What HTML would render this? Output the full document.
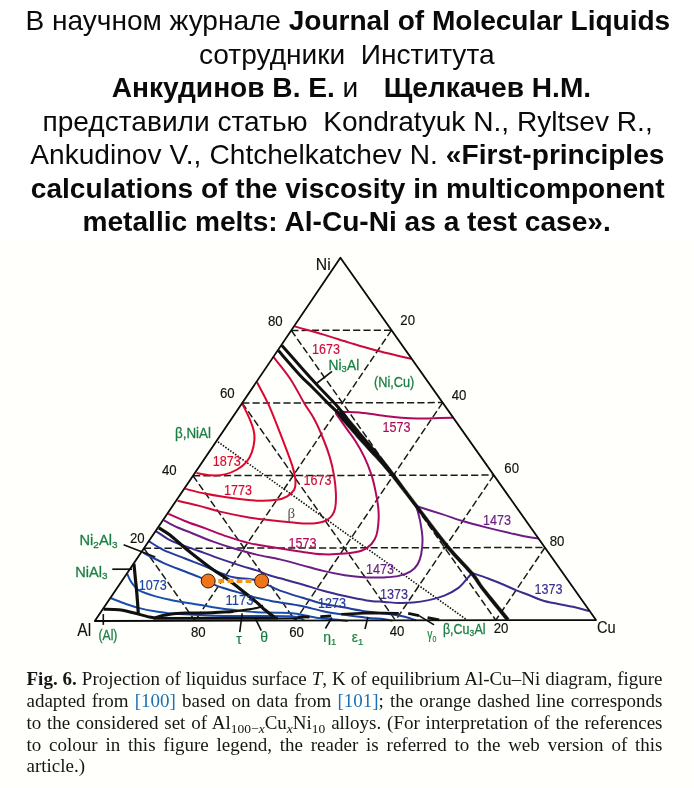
<!DOCTYPE html>
<html><head><meta charset="utf-8">
<style>
html,body{margin:0;padding:0;}
body{width:694px;height:788px;position:relative;overflow:hidden;background:#ffffff;font-family:"Liberation Sans",sans-serif;color:#000;}
.fig{position:absolute;left:0;top:238px;width:694px;height:550px;background:#fffffb;}
.h{position:absolute;white-space:pre;font-size:28.1px;line-height:34px;height:34px;color:#0a0a0a;}
.cap{position:absolute;left:26.5px;width:636px;height:22px;font-family:"Liberation Serif",serif;font-size:19px;line-height:22px;color:#161616;text-align:justify;text-align-last:justify;white-space:nowrap;transform:scaleY(0.95);transform-origin:0 17.41px;}
.cap .r{color:#1a6fb5;}
.cap sub{font-size:13.5px;line-height:0;vertical-align:-3.8px;}
svg{position:absolute;left:0;top:0;}
svg text{font-family:"Liberation Sans",sans-serif;}
</style></head><body>
<div id="wrap" style="position:absolute;left:0;top:0;width:694px;height:788px;will-change:transform;">
<div class="fig"></div>
<div class="h" style="left:25.6px;top:4.3px;letter-spacing:-0.035px">В научном журнале <b>Journal of Molecular Liquids</b></div>
<div class="h" style="left:199px;top:37.8px">сотрудники  Института</div>
<div class="h" style="left:111.8px;top:71.2px"><b>Анкудинов В. Е.</b> и  <span style="letter-spacing:2px"> </span><b>Щелкачев Н.М.</b></div>
<div class="h" style="left:42.5px;top:104.6px">представили статью  Kondratyuk N., Ryltsev R.,</div>
<div class="h" style="left:30.3px;top:138px;word-spacing:0.3px">Ankudinov V., Chtchelkatchev N. <b>«First-principles</b></div>
<div class="h" style="left:30.8px;top:171.5px"><b>calculations of the viscosity in multicomponent</b></div>
<div class="h" style="left:82.5px;top:204.8px"><b>metallic melts: Al-Cu-Ni as a test case».</b></div>
<svg width="694" height="788" viewBox="0 0 694 788" fill="none" stroke-linecap="butt" stroke-linejoin="round">
<path d="M143.9 548.3L544.9 547.5" stroke="#1a1a1a" stroke-width="1.5" stroke-dasharray="7.2 3.1"/>
<path d="M391.5 330.2L195 620.8" stroke="#1a1a1a" stroke-width="1.5" stroke-dasharray="7.2 3.1"/>
<path d="M291.3 330.4L495.8 620.2" stroke="#1a1a1a" stroke-width="1.5" stroke-dasharray="7.2 3.1"/>
<path d="M193 475.7L493.8 475.1" stroke="#1a1a1a" stroke-width="1.5" stroke-dasharray="7.2 3.1"/>
<path d="M442.6 402.6L295.3 620.6" stroke="#1a1a1a" stroke-width="1.5" stroke-dasharray="7.2 3.1"/>
<path d="M242.2 403L395.5 620.4" stroke="#1a1a1a" stroke-width="1.5" stroke-dasharray="7.2 3.1"/>
<path d="M242.2 403L442.6 402.6" stroke="#1a1a1a" stroke-width="1.5" stroke-dasharray="7.2 3.1"/>
<path d="M493.8 475.1L395.5 620.4" stroke="#1a1a1a" stroke-width="1.5" stroke-dasharray="7.2 3.1"/>
<path d="M193 475.7L295.3 620.6" stroke="#1a1a1a" stroke-width="1.5" stroke-dasharray="7.2 3.1"/>
<path d="M291.3 330.4L391.5 330.2" stroke="#1a1a1a" stroke-width="1.5" stroke-dasharray="7.2 3.1"/>
<path d="M544.9 547.5L495.8 620.2" stroke="#1a1a1a" stroke-width="1.5" stroke-dasharray="7.2 3.1"/>
<path d="M143.9 548.3L195 620.8" stroke="#1a1a1a" stroke-width="1.5" stroke-dasharray="7.2 3.1"/>
<path d="M218 441.9L466 619.3" stroke="#111" stroke-width="1.6" stroke-dasharray="1.5 1.5"/>
<path d="M294.6 326.4C296.6 327 302.8 328.8 306.4 329.8C310 330.8 312.6 331.4 316.5 332.5C320.4 333.6 324.4 334.9 330 336.6C335.6 338.3 342.4 340.6 350 342.9C357.6 345.2 365.2 347.6 375.4 350.3C385.6 353 405.3 357.5 411.3 358.9" stroke="#cc0a3c" stroke-width="2.0" />
<path d="M336.7 411.8C338.4 411.8 343.2 411.9 347 412C350.8 412.1 354.3 412.1 359.2 412.5C364.1 412.9 370.7 414 376.5 414.7C382.3 415.4 388.2 416.3 393.8 416.9C399.4 417.5 404.8 417.9 410 418.2C415.2 418.5 420 418.7 425 418.6C430 418.6 435.4 418 440 417.9C444.6 417.8 450.7 417.8 452.8 417.8" stroke="#b0085c" stroke-width="2.0" />
<path d="M168.3 513.8C171.1 515 178.5 518.5 184.8 521C191.1 523.5 198.9 526 206 528.6C213.1 531.2 220.4 534.2 227.6 536.6C234.8 539 242.2 541.4 249.3 543.1C256.4 544.8 261.3 545.2 270 546.7C278.7 548.2 292.7 550.5 301.6 551.8C310.5 553.1 316 554 323.2 554.3C330.4 554.6 338.3 554.2 344.8 553.6C351.3 553 357.6 552.1 362 550.5C366.4 548.9 369.1 546.6 371.5 544C373.9 541.4 375.3 539 376.5 535C377.7 531 378.3 524.6 378.6 520C378.9 515.4 378.7 511.9 378.2 507.2C377.7 502.5 376.8 497.1 375.6 491.6C374.5 486.1 373.2 480.1 371.3 474.4C369.4 468.6 367 462.6 364.4 457.1C361.8 451.6 358.6 446.1 355.7 441.5C352.8 436.9 350.5 434.1 347.1 429.4C343.7 424.6 337.4 415.7 335.5 413" stroke="#b0085c" stroke-width="2.0" />
<path d="M273.2 356.7C276.1 360.4 285.3 371.4 290.5 379.2C295.7 387 300.4 396.8 304.4 403.4C308.3 410 311.1 413.2 314.2 419C317.3 424.8 320.3 431.6 322.9 438C325.5 444.4 327.9 450.8 329.8 457.1C331.7 463.5 333.1 470.1 334.1 476.1C335.1 482.2 335.7 488.2 335.9 493.4C336.1 498.6 335.9 503.6 335.3 507.2C334.7 510.8 333.8 512.9 332.4 515C331 517.1 329.3 518.6 327.2 519.8C325.1 521 323.4 521.8 320 522.4C316.6 523 313.6 523.8 306.5 523.6C299.4 523.4 287.2 522 277.6 521C268 520 258.4 519 248.8 517.4C239.2 515.8 228.2 513.5 220 511.6C211.8 509.7 206.4 507.7 199.3 505.9C192.2 504.1 181.2 501.6 177.6 500.8" stroke="#cc0a3c" stroke-width="2.0" />
<path d="M256.8 381.8C258.7 385.4 264.7 396.3 268 403.4C271.3 410.5 273.9 417.3 276.8 424.6C279.7 431.9 282.9 440.2 285.5 447.1C288.1 454 290.8 460.6 292.4 466.1C294 471.6 295.1 476 295.4 479.9C295.7 483.8 295.7 486.8 294.3 489.5C292.9 492.2 290.1 494.6 287.2 496.3C284.3 498 281.7 499.1 276.8 499.8C271.9 500.5 265.3 501 257.8 500.7C250.3 500.4 240.6 499.2 231.9 498.1C223.2 497 213.7 495.3 205.9 493.8C198.1 492.3 188.6 489.7 185.2 488.9" stroke="#dc0630" stroke-width="2.0" />
<path d="M242.3 403.8C243.3 405.8 246.4 411.6 248.3 415.9C250.2 420.2 252.5 425.8 253.5 429.8C254.5 433.8 254.7 436.4 254.4 440.1C254.1 443.9 253.1 448.7 251.8 452.3C250.5 455.9 249.1 458.9 246.6 461.8C244.1 464.7 240.7 467.4 237.1 469.5C233.5 471.6 229.3 473.4 225 474.4C220.7 475.4 215.9 475.5 211.1 475.3C206.3 475.1 198.8 473.4 196.4 473" stroke="#e2062c" stroke-width="2.0" />
<path d="M163.9 520.3C166.2 521.5 173 525.4 177.6 527.5C182.2 529.6 185.7 530.6 191.6 533C197.5 535.4 206 539 213.2 541.6C220.4 544.2 227.6 546.6 234.8 548.8C242 551 249 552.8 256.5 554.6C264 556.4 272.5 557.6 280 559.4C287.5 561.1 294.4 563.2 301.6 565.1C308.8 567 316 569.2 323.2 570.9C330.4 572.6 337.6 574.1 344.8 575.2C352 576.3 359.9 577 366.5 577.4C373.1 577.8 379 577.6 384.4 577.4C389.8 577.1 394.5 576.9 398.8 575.9C403.1 574.9 407.2 573.5 410.3 571.6C413.4 569.7 415.8 567.3 417.6 564.4C419.4 561.5 420.4 558.5 421.2 554.3C422 550.1 422.6 544.6 422.5 539.2C422.4 533.8 421.3 527.4 420.3 521.9C419.3 516.4 417 508.8 416.3 506.2" stroke="#6c1d86" stroke-width="2.0" />
<path d="M416 506C420.3 507.4 434.1 511.6 441.9 514.1C449.7 516.6 455.4 518.8 462.6 521C469.8 523.2 477.2 525.1 485.1 527.1C493 529.1 503.5 531.6 510 533.1C516.5 534.6 519.2 535.3 523.9 536.2C528.6 537.1 535.6 538.1 538 538.5" stroke="#6c1d86" stroke-width="2.0" />
<path d="M156 531.1C158.3 532.6 165.3 537.7 170 540.2C174.7 542.7 179.6 544.1 184.4 545.9C189.2 547.7 192.8 548.8 198.8 551C204.8 553.2 213.2 556.4 220.4 558.9C227.6 561.4 236 564.2 242 566.1C248 568 251.8 568.8 256.5 570.4C261.2 572 266.1 574.2 270 575.5C273.9 576.8 274.7 576.8 280 578.3C285.3 579.8 294.4 582.1 301.6 584.2C308.8 586.3 316 588.8 323.2 590.8C330.4 592.8 337.6 594.5 344.8 596.1C352 597.7 359.9 599.4 366.5 600.4C373.1 601.4 379 601.5 384.4 601.9C389.8 602.3 394 602.9 398.8 603C403.6 603.1 408.4 603 413.2 602.6C418 602.2 422.4 601.6 427.6 600.4C432.8 599.2 439.2 597.7 444.4 595.6C449.6 593.5 454.9 590.5 458.8 587.6C462.7 584.7 465.3 580.7 467.5 578.2C469.7 575.8 471.1 573.8 471.8 572.9" stroke="#3f2a8e" stroke-width="2.0" />
<path d="M471.8 572.9C474.4 573.8 482.6 576.4 487.6 578.2C492.6 580.1 497.2 582 502 584C506.8 586 511.8 588.5 516.5 590.4C521.2 592.3 525.4 593.7 530 595.5C534.6 597.3 537 599.1 544.1 601C551.2 602.9 565.4 605.1 572.9 606.8C580.4 608.5 586.3 610.3 589 611" stroke="#3f2a8e" stroke-width="2.0" />
<path d="M148.8 541.2C151.2 542.6 157.3 547 163.2 549.8C169.1 552.6 178.5 555.9 184.4 558.2C190.3 560.6 194 562 198.8 563.9C203.6 565.8 209.1 568 213.2 569.7C217.3 571.4 219.7 572.7 223.3 574C226.9 575.3 229.5 576.6 234.8 577.6C240.1 578.6 249.4 578.7 255 580C260.6 581.3 264.3 583.5 268.5 585.3C272.7 587.1 274.5 588.6 280 590.6C285.5 592.6 294.4 595.3 301.6 597.5C308.8 599.7 316 602.1 323.2 603.8C330.4 605.5 337.6 606.3 344.8 607.6C352 608.9 359.9 610.5 366.5 611.5C373.1 612.5 379 612.7 384.4 613.4C389.8 614.1 394.5 614.8 398.8 615.6C403.1 616.4 407.4 617.6 410.3 618.4C413.2 619.2 415.1 620.1 416.1 620.4" stroke="#233c9e" stroke-width="2.0" />
<path d="M143.1 552.7C146.4 554.4 156.3 559.7 163.2 562.8C170.1 565.9 178.5 568.9 184.4 571.2C190.3 573.6 194.9 575.3 198.8 576.9C202.7 578.5 205.3 579.7 208 581C210.7 582.3 211.4 583.4 214.7 584.8C218 586.2 223 587.8 227.6 589.2C232.2 590.7 237.2 592.1 242 593.5C246.8 594.9 251.8 596.6 256.5 597.8C261.2 599 266.1 599.9 270 600.7C273.9 601.5 274.7 601.6 280 602.5C285.3 603.4 294.4 604.5 301.6 606C308.8 607.5 316 609.7 323.2 611.2C330.4 612.7 337.6 613.7 344.8 614.8C352 615.9 359.9 617 366.5 617.7C373.1 618.4 380.1 618.7 384.4 619.2C388.7 619.7 391 620.5 392.3 620.7" stroke="#1c42a2" stroke-width="2.0" />
<path d="M127.2 573.8C127.7 574.8 129 578.2 130 580C131 581.8 131.7 582.9 133.2 584.6C134.7 586.3 135.4 588.4 139 590.3C142.6 592.2 149.5 594.5 154.8 596.1C160.1 597.7 164.6 598.6 170.7 599.9C176.8 601.1 184.5 602.4 191.6 603.6C198.7 604.8 206 606.1 213.2 607.2C220.4 608.3 227.6 609.3 234.8 610.1C242 610.9 249.6 611.8 256.5 612.2C263.4 612.6 270.2 612.5 276.5 612.7C282.8 612.9 287.8 612.6 294.4 613.4C301 614.2 309.8 616.7 316 617.7C322.2 618.7 326.6 618.7 331.9 619.2C337.2 619.8 345.1 620.7 347.7 621" stroke="#1a4eae" stroke-width="2.0" />
<path d="M110.9 598.3C113.4 599.2 121.1 602.3 126 604C130.9 605.7 135.6 607.2 140.4 608.4C145.2 609.6 149.8 610.4 154.8 611.2C159.9 612 164.8 612.9 170.7 613.4C176.6 613.9 180.1 614.1 190 614.5C199.9 614.9 213.3 615.7 230 616C246.7 616.3 277.6 615.6 290 616.3C302.4 617 302.1 619.7 304.5 620.4" stroke="#1a4eae" stroke-width="2.0" />
<path d="M281.9 345.4C285.5 349.5 297.3 363 303.5 370C309.7 377 314.1 381.7 319.3 387.3C324.5 392.9 331.1 399.6 334.8 403.6C338.5 407.6 339.6 409 341.6 411.5C343.6 414 345.9 417.3 346.8 418.4" stroke="#101010" stroke-width="3.0" />
<path d="M278.4 350.6C282 354.7 294.4 369.1 300 375.2C305.6 381.3 307.6 382.6 312.3 387.3C317 392 324 399.2 328.4 403.6C332.8 408 336.1 410.9 338.8 413.7C341.4 416.5 343.3 419.4 344.2 420.6" stroke="#101010" stroke-width="3.0" />
<path d="M342.8 410.6C343.7 411.7 345.6 414.5 348 417.5C350.4 420.4 354.8 425.4 357.2 428.3C359.5 431.2 359.8 431.7 362.3 434.6C364.8 437.6 369.5 442.9 372.1 445.9C374.7 449 375.7 450.1 378 452.9C380.2 455.7 383.2 459.4 385.7 462.6C388.3 465.8 390 468 393.1 472.2C396.2 476.3 400.4 482 404.4 487.4C408.5 492.8 409.9 494.8 417.2 504.4C424.6 514 439.2 533.8 448.4 545C457.7 556.3 466.7 564.7 472.8 571.9C478.9 579.1 478.7 580.7 484.7 588.5C490.8 596.2 505.1 613.5 509.2 618.5L506.4 620.7C502.4 615.7 488.1 598.3 482.1 590.5C476 582.8 476.2 581.3 470.2 574.1C464.2 566.9 455.1 558.5 445.8 547.2C436.5 535.9 421.9 516 414.6 506.4C407.2 496.8 405.7 494.9 401.6 489.6C397.5 484.3 393.1 478.7 389.9 474.6C386.7 470.6 384.9 468.5 382.3 465.4C379.6 462.4 376.4 458.9 374 456.3C371.6 453.7 370.6 452.6 367.9 449.7C365.2 446.7 360.3 441.5 357.7 438.6C355.2 435.7 354.9 435.1 352.4 432.3C350 429.5 345.5 424.5 343 421.5C340.6 418.6 338.5 415.8 337.6 414.6Z" fill="#101010" stroke="#101010" stroke-width="0.4"/>
<path d="M158.9 527.8C160.8 529 165.8 531.8 170 535.1C174.2 538.4 179.6 543.4 184.4 547.4C189.2 551.4 194 555.2 198.8 558.9C203.6 562.6 208.4 566.3 213.2 569.7C218 573.1 222.8 575.6 227.6 579.1C232.4 582.6 237.2 586.8 242 590.6C246.8 594.4 252.7 598.9 256.5 602.1C260.4 605.4 262 607.5 265.1 610.1C268.2 612.7 273.4 616.3 275 617.5" stroke="#101010" stroke-width="3.2" />
<path d="M227.6 612.2C231.2 611.7 244 610.1 249.3 609.3C254.6 608.5 257 607.9 259.3 607.2C261.6 606.6 262.4 605.7 263 605.4" stroke="#101010" stroke-width="2.2" />
<path d="M112.3 569.2L132 569.2" stroke="#101010" stroke-width="1.7" />
<path d="M133.9 563.7C134.2 566.2 134.9 573.9 135.4 578.8C135.9 583.7 136.3 587.4 136.8 593.2C137.3 599 138.1 610 138.3 613.4" stroke="#101010" stroke-width="3.2" />
<path d="M103.7 609.3C106.2 609.4 113.9 609.2 118.8 609.8C123.7 610.4 128.4 611.6 133.2 612.7C138 613.8 144 615.8 147.6 616.6C151.2 617.4 152.4 617.9 154.8 617.7C157.2 617.5 158.4 616.3 162 615.6C165.6 614.9 171.8 613.8 176.5 613.4C181.2 613 184.2 613.1 190 613C195.8 612.9 204.4 612.9 211.6 612.7C218.8 612.5 229.6 611.8 233.2 611.6" stroke="#101010" stroke-width="3" />
<path d="M153.4 618.4L278 618.2" stroke="#101010" stroke-width="2.9" />
<path d="M278 618.6L300 618.3" stroke="#101010" stroke-width="2" />
<path d="M298 617L309.5 617" stroke="#101010" stroke-width="2.8" />
<path d="M320.3 616.6L331.2 616" stroke="#101010" stroke-width="2.8" />
<path d="M341.2 614.3L370 612.9L398.8 613.4" stroke="#101010" stroke-width="2.6" />
<path d="M408.2 613.4L419 615.6" stroke="#101010" stroke-width="2.8" />
<path d="M427.6 617.7L439.2 619.9" stroke="#101010" stroke-width="2.8" />
<path d="M123.6 544.8L155.3 557" stroke="#101010" stroke-width="1.6" />
<path d="M332 371.4L316.5 383.5" stroke="#101010" stroke-width="1.6" />
<path d="M242.2 613.4L239.7 632.1" stroke="#101010" stroke-width="1.6" />
<path d="M255.6 619.2L261.3 630.7" stroke="#101010" stroke-width="1.6" />
<path d="M331.9 617.7L325.4 628.5" stroke="#101010" stroke-width="1.6" />
<path d="M367.9 617L365 629" stroke="#101010" stroke-width="1.6" />
<path d="M419 615.6L434.1 624.9" stroke="#101010" stroke-width="1.6" />
<path d="M103.3 614.1L103.3 624.9" stroke="#101010" stroke-width="1.6" />
<path d="M94.8 621L340.4 257.7L596 620Z" stroke="#0a0a0a" stroke-width="1.8" />
<path d="M218.3 581L224.1 581" stroke="#f4951c" stroke-width="4" />
<path d="M227.6 581L233.4 581" stroke="#f4951c" stroke-width="4" />
<path d="M236.6 581L242.4 581" stroke="#f4951c" stroke-width="4" />
<path d="M245.6 581L251.4 581" stroke="#f4951c" stroke-width="4" />
<circle cx="208.2" cy="581" r="7" fill="#f0741a" stroke="#3a1a00" stroke-width="1"/>
<circle cx="261.6" cy="581" r="7" fill="#f0741a" stroke="#3a1a00" stroke-width="1"/>
<text x="323.2" y="269.7" font-size="16.6" fill="#111" stroke="#111" stroke-width="0.15" text-anchor="middle" textLength="14.9" lengthAdjust="spacingAndGlyphs" >Ni</text>
<text x="84.3" y="635.9" font-size="18" fill="#111" stroke="#111" stroke-width="0.1" text-anchor="middle" textLength="13.9" lengthAdjust="spacingAndGlyphs" >Al</text>
<text x="606.3" y="632.8" font-size="17" fill="#111" stroke="#111" stroke-width="0.15" text-anchor="middle" textLength="18.7" lengthAdjust="spacingAndGlyphs" >Cu</text>
<text x="275.3" y="326" font-size="13.8" fill="#111" stroke="#111" stroke-width="0.15" text-anchor="middle" textLength="14.7" lengthAdjust="spacingAndGlyphs" >80</text>
<text x="227.3" y="397.5" font-size="13.8" fill="#111" stroke="#111" stroke-width="0.15" text-anchor="middle" textLength="14.7" lengthAdjust="spacingAndGlyphs" >60</text>
<text x="169.3" y="474.8" font-size="13.8" fill="#111" stroke="#111" stroke-width="0.15" text-anchor="middle" textLength="14.7" lengthAdjust="spacingAndGlyphs" >40</text>
<text x="137.3" y="543.2" font-size="13.8" fill="#111" stroke="#111" stroke-width="0.15" text-anchor="middle" textLength="14.7" lengthAdjust="spacingAndGlyphs" >20</text>
<text x="407.7" y="325.1" font-size="13.8" fill="#111" stroke="#111" stroke-width="0.15" text-anchor="middle" textLength="14.7" lengthAdjust="spacingAndGlyphs" >20</text>
<text x="459.1" y="399.9" font-size="13.8" fill="#111" stroke="#111" stroke-width="0.15" text-anchor="middle" textLength="14.7" lengthAdjust="spacingAndGlyphs" >40</text>
<text x="511.7" y="473.3" font-size="13.8" fill="#111" stroke="#111" stroke-width="0.15" text-anchor="middle" textLength="14.7" lengthAdjust="spacingAndGlyphs" >60</text>
<text x="557" y="546" font-size="13.8" fill="#111" stroke="#111" stroke-width="0.15" text-anchor="middle" textLength="14.7" lengthAdjust="spacingAndGlyphs" >80</text>
<text x="198.3" y="637" font-size="13.8" fill="#111" stroke="#111" stroke-width="0.15" text-anchor="middle" textLength="14.7" lengthAdjust="spacingAndGlyphs" >80</text>
<text x="296.6" y="637.4" font-size="13.8" fill="#111" stroke="#111" stroke-width="0.15" text-anchor="middle" textLength="14.7" lengthAdjust="spacingAndGlyphs" >60</text>
<text x="397" y="635.6" font-size="13.8" fill="#111" stroke="#111" stroke-width="0.15" text-anchor="middle" textLength="14.7" lengthAdjust="spacingAndGlyphs" >40</text>
<text x="501" y="633.1" font-size="13.8" fill="#111" stroke="#111" stroke-width="0.15" text-anchor="middle" textLength="14.7" lengthAdjust="spacingAndGlyphs" >20</text>
<text x="193" y="438" font-size="14" fill="#1b7f44" stroke="#1b7f44" stroke-width="0.3" text-anchor="middle" textLength="36" lengthAdjust="spacingAndGlyphs" >β,NiAl</text>
<text x="343.9" y="369.5" font-size="14" fill="#1b7f44" stroke="#1b7f44" stroke-width="0.3" text-anchor="middle" textLength="30.7" lengthAdjust="spacingAndGlyphs" >Ni<tspan font-size="9.5" dy="2.8">3</tspan><tspan dy="-2.8" font-size="1"> </tspan>Al</text>
<text x="394.2" y="386.6" font-size="14" fill="#1b7f44" stroke="#1b7f44" stroke-width="0.3" text-anchor="middle" textLength="40.3" lengthAdjust="spacingAndGlyphs" >(Ni,Cu)</text>
<text x="98.5" y="544.7" font-size="14" fill="#1b7f44" stroke="#1b7f44" stroke-width="0.3" text-anchor="middle" textLength="38.2" lengthAdjust="spacingAndGlyphs" >Ni<tspan font-size="9.5" dy="2.8">2</tspan><tspan dy="-2.8" font-size="1"> </tspan>Al<tspan font-size="9.5" dy="2.8">3</tspan><tspan dy="-2.8" font-size="1"> </tspan></text>
<text x="91.3" y="576.5" font-size="14" fill="#1b7f44" stroke="#1b7f44" stroke-width="0.3" text-anchor="middle" textLength="32.3" lengthAdjust="spacingAndGlyphs" >NiAl<tspan font-size="9.5" dy="2.8">3</tspan><tspan dy="-2.8" font-size="1"> </tspan></text>
<text x="108" y="640" font-size="14" fill="#1b7f44" stroke="#1b7f44" stroke-width="0.3" text-anchor="middle" textLength="18.8" lengthAdjust="spacingAndGlyphs" >(Al)</text>
<text x="239" y="644" font-size="14" fill="#1b7f44" stroke="#1b7f44" stroke-width="0.2" text-anchor="middle" >τ</text>
<text x="264.2" y="642.3" font-size="14" fill="#1b7f44" stroke="#1b7f44" stroke-width="0.2" text-anchor="middle" >θ</text>
<text x="329.7" y="642" font-size="14" fill="#1b7f44" stroke="#1b7f44" stroke-width="0.2" text-anchor="middle" >η<tspan font-size="9.5" dy="2.8">1</tspan><tspan dy="-2.8" font-size="1"> </tspan></text>
<text x="357.5" y="642" font-size="14" fill="#1b7f44" stroke="#1b7f44" stroke-width="0.2" text-anchor="middle" >ε<tspan font-size="9.5" dy="2.8">1</tspan><tspan dy="-2.8" font-size="1"> </tspan></text>
<text x="431.8" y="639" font-size="14" fill="#1b7f44" stroke="#1b7f44" stroke-width="0.2" text-anchor="middle" textLength="9" lengthAdjust="spacingAndGlyphs" >γ<tspan font-size="9.5" dy="2.8">0</tspan><tspan dy="-2.8" font-size="1"> </tspan></text>
<text x="464.2" y="633.6" font-size="14" fill="#1b7f44" stroke="#1b7f44" stroke-width="0.3" text-anchor="middle" textLength="42.5" lengthAdjust="spacingAndGlyphs" >β,Cu<tspan font-size="9.5" dy="2.8">3</tspan><tspan dy="-2.8" font-size="1"> </tspan>Al</text>
<text x="326" y="353.5" font-size="14" fill="#cc0a3c" stroke="#cc0a3c" stroke-width="0.15" text-anchor="middle" textLength="28" lengthAdjust="spacingAndGlyphs" >1673</text>
<text x="396.5" y="432.2" font-size="14" fill="#b0085c" stroke="#b0085c" stroke-width="0.15" text-anchor="middle" textLength="28" lengthAdjust="spacingAndGlyphs" >1573</text>
<text x="226.7" y="465.5" font-size="14" fill="#e2062c" stroke="#e2062c" stroke-width="0.15" text-anchor="middle" textLength="28" lengthAdjust="spacingAndGlyphs" >1873</text>
<text x="238" y="495.3" font-size="14" fill="#dc0630" stroke="#dc0630" stroke-width="0.15" text-anchor="middle" textLength="28" lengthAdjust="spacingAndGlyphs" >1773</text>
<text x="317.5" y="485.2" font-size="14" fill="#cc0a3c" stroke="#cc0a3c" stroke-width="0.15" text-anchor="middle" textLength="28" lengthAdjust="spacingAndGlyphs" >1673</text>
<text x="302.4" y="547.7" font-size="14" fill="#b0085c" stroke="#b0085c" stroke-width="0.15" text-anchor="middle" textLength="28" lengthAdjust="spacingAndGlyphs" >1573</text>
<text x="380.1" y="574.1" font-size="14" fill="#6c1d86" stroke="#6c1d86" stroke-width="0.15" text-anchor="middle" textLength="28" lengthAdjust="spacingAndGlyphs" >1473</text>
<text x="497" y="524.5" font-size="14" fill="#6c1d86" stroke="#6c1d86" stroke-width="0.15" text-anchor="middle" textLength="28" lengthAdjust="spacingAndGlyphs" >1473</text>
<text x="394.1" y="598.6" font-size="14" fill="#3f2a8e" stroke="#3f2a8e" stroke-width="0.15" text-anchor="middle" textLength="28" lengthAdjust="spacingAndGlyphs" >1373</text>
<text x="548.4" y="593.9" font-size="14" fill="#3f2a8e" stroke="#3f2a8e" stroke-width="0.15" text-anchor="middle" textLength="28" lengthAdjust="spacingAndGlyphs" >1373</text>
<text x="331.9" y="607.6" font-size="14" fill="#233c9e" stroke="#233c9e" stroke-width="0.15" text-anchor="middle" textLength="28" lengthAdjust="spacingAndGlyphs" >1273</text>
<text x="239.5" y="605.2" font-size="14" fill="#1c42a2" stroke="#1c42a2" stroke-width="0.15" text-anchor="middle" textLength="28" lengthAdjust="spacingAndGlyphs" >1173</text>
<text x="152.7" y="590.4" font-size="14" fill="#1c42a2" stroke="#1c42a2" stroke-width="0.15" text-anchor="middle" textLength="28" lengthAdjust="spacingAndGlyphs" >1073</text>
<text x="291.4" y="518" font-size="15" fill="#555" stroke="none" text-anchor="middle" style="font-family:'Liberation Serif',serif">β</text>
</svg>
<div class="cap" style="top:667.8px"><b>Fig. 6.</b> Projection of liquidus surface <i>T</i>, K of equilibrium Al-Cu–Ni diagram, figure</div>
<div class="cap" style="top:689.7px">adapted from <span class="r">[100]</span> based on data from <span class="r">[101]</span>; the orange dashed line corresponds</div>
<div class="cap" style="top:711.6px">to the considered set of Al<sub>100−<i>x</i></sub>Cu<sub><i>x</i></sub>Ni<sub>10</sub> alloys. (For interpretation of the references</div>
<div class="cap" style="top:733.5px">to colour in this figure legend, the reader is referred to the web version of this</div>
<div class="cap" style="top:755.4px;text-align-last:left">article.)</div>
</div>
</body></html>
